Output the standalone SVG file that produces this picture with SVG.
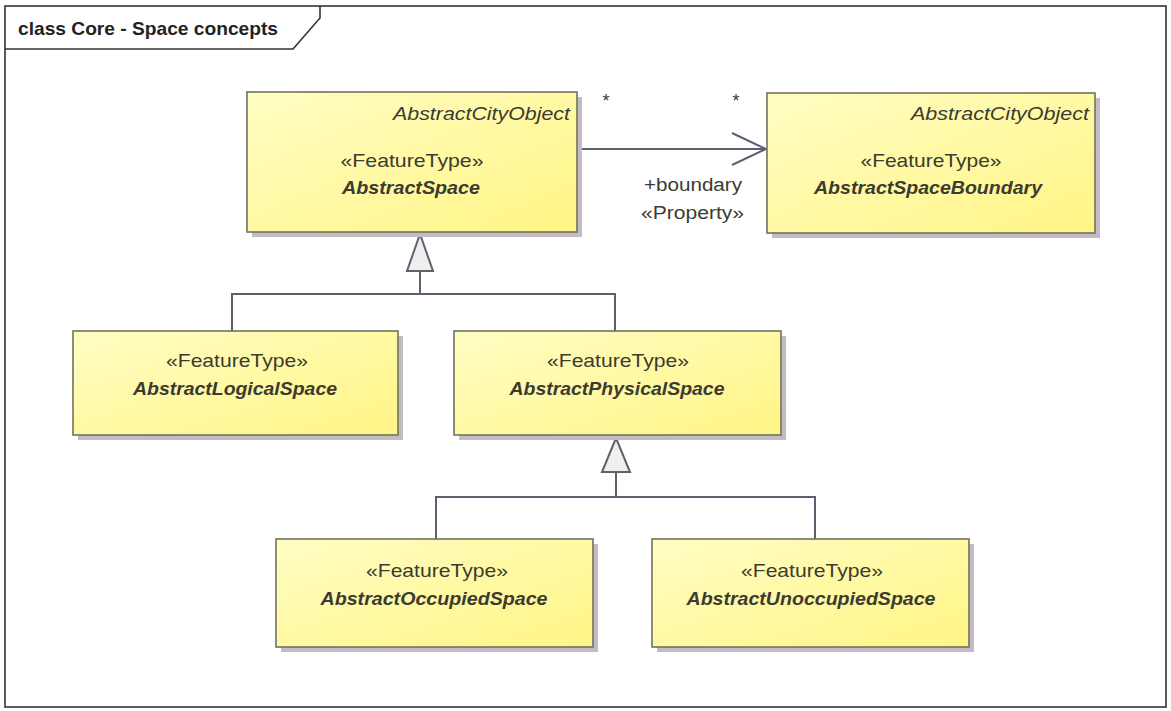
<svg xmlns="http://www.w3.org/2000/svg" width="1171" height="711" viewBox="0 0 1171 711">
<style>
text{font-family:"Liberation Sans",Arial,sans-serif;fill:#3b3b30;}
.box{fill:url(#yel);stroke:#72725c;stroke-width:1.6;}
.sh{fill:#c4bcc4;}
.st{font-size:19px;text-anchor:middle;}
.nm{font-size:19px;font-weight:bold;font-style:italic;text-anchor:middle;}
.par{font-size:18px;font-style:italic;text-anchor:end;}
.lbl{font-size:18px;}
.con{fill:none;stroke:#5c6170;stroke-width:2;}
.tri{fill:#f1eeee;stroke:#5c6170;stroke-width:2;stroke-linejoin:miter;}
</style>
<defs>
<linearGradient id="yel" x1="0" y1="0" x2="1" y2="1">
<stop offset="0" stop-color="#fffdc4"/>
<stop offset="1" stop-color="#fff585"/>
</linearGradient>
</defs>
<rect width="1171" height="711" fill="#ffffff"/>
<g id="frame">
<rect x="5" y="6" width="1161" height="701" fill="none" stroke="#333333" stroke-width="1.6"/>
<path d="M5,49 H293 L320,18 V6" fill="none" stroke="#333333" stroke-width="1.6"/>
<text x="18" y="35" font-size="19" font-weight="bold" fill="#222222" style="fill:#222222" textLength="260" lengthAdjust="spacingAndGlyphs">class Core - Space concepts</text>
</g>
<g id="connectors">
<line class="con" x1="577" y1="149" x2="766" y2="149"/>
<polyline class="con" points="732,133 766,149 732,165"/>
<text class="lbl" x="606" y="107" text-anchor="middle">*</text>
<text class="lbl" x="736" y="107" text-anchor="middle">*</text>
<text class="lbl" x="742" y="191" text-anchor="end" textLength="98" lengthAdjust="spacingAndGlyphs">+boundary</text>
<text class="lbl" x="744" y="219" text-anchor="end" textLength="103" lengthAdjust="spacingAndGlyphs">«Property»</text>
<path class="con" d="M232,331 V294 H615 V331 M420,294 V271"/>
<polygon class="tri" points="420,234 407,271 433,271"/>
<path class="con" d="M436,539 V497 H815 V539 M616,497 V472"/>
<polygon class="tri" points="616,438 602,472 630,472"/>
</g>
<g id="AbstractSpace">
<rect class="sh" x="252" y="97" width="330" height="140"/>
<rect class="box" x="247" y="92" width="330" height="140"/>
<text class="par" x="570" y="120" textLength="177" lengthAdjust="spacingAndGlyphs">AbstractCityObject</text>
<text class="st" x="412" y="167" textLength="143" lengthAdjust="spacingAndGlyphs">«FeatureType»</text>
<text class="nm" x="411" y="194" textLength="138" lengthAdjust="spacingAndGlyphs">AbstractSpace</text>
</g>
<g id="AbstractSpaceBoundary">
<rect class="sh" x="772" y="98" width="328" height="140"/>
<rect class="box" x="767" y="93" width="328" height="140"/>
<text class="par" x="1089" y="120" textLength="178" lengthAdjust="spacingAndGlyphs">AbstractCityObject</text>
<text class="st" x="931" y="167" textLength="141" lengthAdjust="spacingAndGlyphs">«FeatureType»</text>
<text class="nm" x="928" y="194" textLength="228" lengthAdjust="spacingAndGlyphs">AbstractSpaceBoundary</text>
</g>
<g id="AbstractLogicalSpace">
<rect class="sh" x="78" y="336" width="325" height="104"/>
<rect class="box" x="73" y="331" width="325" height="104"/>
<text class="st" x="237" y="367" textLength="142" lengthAdjust="spacingAndGlyphs">«FeatureType»</text>
<text class="nm" x="235" y="395" textLength="204" lengthAdjust="spacingAndGlyphs">AbstractLogicalSpace</text>
</g>
<g id="AbstractPhysicalSpace">
<rect class="sh" x="459" y="336" width="327" height="104"/>
<rect class="box" x="454" y="331" width="327" height="104"/>
<text class="st" x="618" y="367" textLength="142" lengthAdjust="spacingAndGlyphs">«FeatureType»</text>
<text class="nm" x="617" y="395" textLength="215" lengthAdjust="spacingAndGlyphs">AbstractPhysicalSpace</text>
</g>
<g id="AbstractOccupiedSpace">
<rect class="sh" x="281" y="544" width="317" height="108"/>
<rect class="box" x="276" y="539" width="317" height="108"/>
<text class="st" x="437" y="577" textLength="142" lengthAdjust="spacingAndGlyphs">«FeatureType»</text>
<text class="nm" x="434" y="605" textLength="227" lengthAdjust="spacingAndGlyphs">AbstractOccupiedSpace</text>
</g>
<g id="AbstractUnoccupiedSpace">
<rect class="sh" x="657" y="544" width="317" height="108"/>
<rect class="box" x="652" y="539" width="317" height="108"/>
<text class="st" x="812" y="577" textLength="142" lengthAdjust="spacingAndGlyphs">«FeatureType»</text>
<text class="nm" x="811" y="605" textLength="249" lengthAdjust="spacingAndGlyphs">AbstractUnoccupiedSpace</text>
</g>
</svg>
